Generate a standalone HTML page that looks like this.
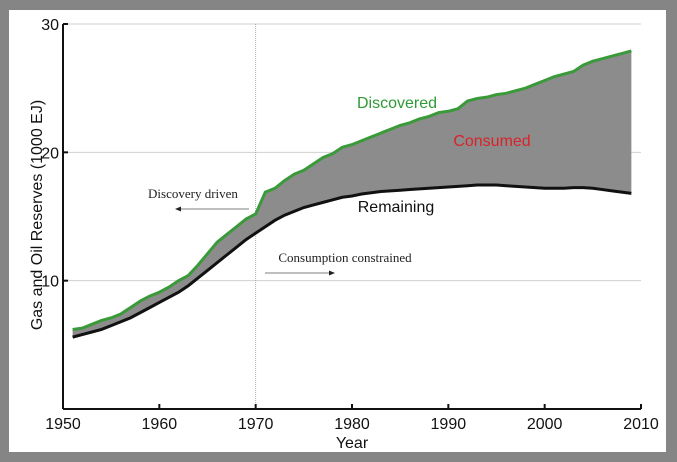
<!DOCTYPE html>
<html><head><meta charset="utf-8"><style>
html,body{margin:0;padding:0;background:#858585}
svg{display:block}
</style></head><body>
<svg width="677" height="462" xmlns="http://www.w3.org/2000/svg">
<rect x="0" y="0" width="677" height="462" fill="#858585"/>
<rect x="9" y="10" width="657" height="442" fill="#fff"/>
<g id="grid"></g>
<path id="band" fill="#8c8c8c"/>
<path id="disc" fill="none" stroke="#3a9a3a" stroke-width="3"/>
<path id="rem" fill="none" stroke="#111" stroke-width="3"/>
<g id="axes"></g>
<text x="397" y="108" fill="#2e9a35" font-family="Liberation Sans, sans-serif" font-size="16" text-anchor="middle">Discovered</text>
<text x="492" y="146" fill="#d8232a" font-family="Liberation Sans, sans-serif" font-size="16" text-anchor="middle">Consumed</text>
<text x="396" y="212" fill="#111" font-family="Liberation Sans, sans-serif" font-size="16" text-anchor="middle">Remaining</text>
<text x="193" y="198" fill="#222" font-family="Liberation Serif, serif" font-size="13" text-anchor="middle">Discovery driven</text>
<line x1="249" y1="209" x2="178" y2="209" stroke="#555" stroke-width="0.8"/>
<path d="M175,209 l6,-2.5 v5 z" fill="#222"/>
<text x="345" y="262" fill="#222" font-family="Liberation Serif, serif" font-size="13" text-anchor="middle">Consumption constrained</text>
<line x1="265" y1="273" x2="332" y2="273" stroke="#555" stroke-width="0.8"/>
<path d="M335,273 l-6,-2.5 v5 z" fill="#222"/>
<text x="352" y="448" font-family="Liberation Sans, sans-serif" font-size="16" text-anchor="middle" fill="#111">Year</text>
<text transform="translate(42,215) rotate(-90)" font-family="Liberation Sans, sans-serif" font-size="16" text-anchor="middle" fill="#111">Gas and Oil Reserves (1000 EJ)</text>
</svg>
<script>
const years=[1951,1952,1953,1954,1955,1956,1957,1958,1959,1960,1961,1962,1963,1964,1965,1966,1967,1968,1969,1970,1971,1972,1973,1974,1975,1976,1977,1978,1979,1980,1981,1982,1983,1984,1985,1986,1987,1988,1989,1990,1991,1992,1993,1994,1995,1996,1997,1998,1999,2000,2001,2002,2003,2004,2005,2006,2007,2008,2009];
const discovered=[6.2,6.3,6.6,6.9,7.1,7.4,7.9,8.4,8.8,9.1,9.5,10.0,10.4,11.2,12.1,13.0,13.6,14.2,14.8,15.2,16.9,17.2,17.8,18.3,18.6,19.1,19.6,19.9,20.4,20.6,20.9,21.2,21.5,21.8,22.1,22.3,22.6,22.8,23.1,23.2,23.4,24.0,24.2,24.3,24.5,24.6,24.8,25.0,25.3,25.6,25.9,26.1,26.3,26.8,27.1,27.3,27.5,27.7,27.9];
const remaining=[5.6,5.8,6.0,6.2,6.5,6.8,7.1,7.5,7.9,8.3,8.7,9.1,9.6,10.2,10.8,11.4,12.0,12.6,13.2,13.7,14.2,14.7,15.1,15.4,15.7,15.9,16.1,16.3,16.5,16.6,16.75,16.85,16.95,17.0,17.05,17.1,17.15,17.2,17.25,17.3,17.35,17.4,17.45,17.45,17.45,17.4,17.35,17.3,17.25,17.2,17.2,17.2,17.25,17.25,17.2,17.1,17.0,16.9,16.8];
const xTicks=[1950,1960,1970,1980,1990,2000,2010];
const yTicks=[10,20,30];
const X0=63,X1=641,Y0=409,Y1=24;
const sx=v=>X0+(v-1950)/(2010-1950)*(X1-X0);
const sy=v=>Y0-(v-0)/(30-0)*(Y0-Y1);
const NS="http://www.w3.org/2000/svg";
function mk(tag,attrs,parent){const e=document.createElementNS(NS,tag);for(const k in attrs)e.setAttribute(k,attrs[k]);parent.appendChild(e);return e;}
const grid=document.getElementById('grid');
yTicks.forEach(t=>{const l=mk('line',{x1:X0,x2:X1,y1:sy(t),y2:sy(t),stroke:'#d0d0d0','stroke-width':1},grid);

});
const vl=mk('line',{x1:sx(1970),x2:sx(1970),y1:Y1,y2:Y0,stroke:'#999','stroke-width':0.8,'stroke-dasharray':'1,1'},grid);


const dP=years.map((y,i)=>(i?'L':'M')+sx(y)+','+sy(discovered[i])).join('');
const rP=years.map((y,i)=>(i?'L':'M')+sx(y)+','+sy(remaining[i])).join('');
const rRev=years.map((y,i)=>[sx(y),sy(remaining[i])]).reverse().map(p=>'L'+p[0]+','+p[1]).join('');
document.getElementById('band').setAttribute('d',dP+rRev+'Z');
document.getElementById('disc').setAttribute('d',dP);
document.getElementById('rem').setAttribute('d',rP);
const ax=document.getElementById('axes');
const ya=mk('line',{x1:X0,x2:X0,y1:Y1,y2:Y0,stroke:'#111','stroke-width':2},ax);


const xa=mk('line',{x1:X0,x2:X1,y1:Y0,y2:Y0,stroke:'#111','stroke-width':2},ax);


xTicks.forEach(t=>{mk('line',{x1:sx(t),x2:sx(t),y1:Y0,y2:Y0-5,stroke:'#111','stroke-width':2},ax);
const tx=mk('text',{x:sx(t),y:Y0+20,'text-anchor':'middle','font-family':'Liberation Sans, sans-serif','font-size':16,fill:'#111'},ax);tx.textContent=t;

});
yTicks.forEach(t=>{mk('line',{x1:X0,x2:X0+5,y1:sy(t),y2:sy(t),stroke:'#111','stroke-width':2},ax);
const tx=mk('text',{x:X0-4,y:sy(t)+6,'text-anchor':'end','font-family':'Liberation Sans, sans-serif','font-size':16,fill:'#111'},ax);tx.textContent=t;

});
</script>
</body></html>
